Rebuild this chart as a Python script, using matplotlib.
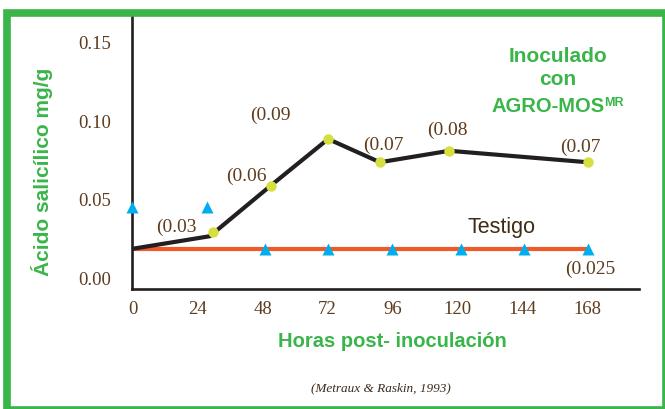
import matplotlib
matplotlib.use("Agg")
import matplotlib.pyplot as plt
from matplotlib.patches import Rectangle

# Inoculado con AGRO-MOS (black line with yellow markers)
hours_line = [0, 28.5, 51, 72.2, 91.3, 116.9, 168]
sa_line = [0.018, 0.026, 0.0582, 0.0879, 0.0731, 0.0804, 0.0731]
hours_pts = [29.7, 51, 72.2, 91.3, 116.9, 168]
sa_pts = [0.0287, 0.0582, 0.0879, 0.0731, 0.0804, 0.0731]

# Testigo (red line with blue triangles)
hours_ctrl = [0, 168]
sa_ctrl = [0.0178, 0.0178]
hours_tri = [0, 27.6, 48.9, 72.3, 95.6, 121.2, 144.6, 168.2]
sa_tri = [0.0446, 0.0446, 0.0178, 0.0178, 0.0178, 0.0178, 0.0178, 0.0178]

labels_pts = ["(0.03", "(0.06", "(0.09", "(0.07", "(0.08", "(0.07", "(0.025"]
xticks = [0, 24, 48, 72, 96, 120, 144, 168]
yticks = [0.00, 0.05, 0.10, 0.15]

green = "#39B54A"
brown = "#5E3C1E"
serif = ["Liberation Serif", "DejaVu Serif"]
sans = ["Liberation Sans", "DejaVu Sans"]

fig = plt.figure(figsize=(6.65, 4.10), dpi=100)
ax = fig.add_axes([0.1988, 0.2927, 0.9613 - 0.1988, 0.9707 - 0.2927])

ax.plot(hours_ctrl, sa_ctrl, color="#EF5A28", lw=3.0, solid_capstyle="butt", zorder=2)
ax.plot(hours_line, sa_line, color="#231F20", lw=3.0, zorder=3)
ax.plot(hours_pts, sa_pts, "o", color="#D5DF3D", ms=7.5, mec="none", zorder=4)
ax.plot(hours_tri, sa_tri, "^", color="#00AEEF", ms=8, mec="none", zorder=4, clip_on=False)

ax.set_xlim(-0.1, 187)
ax.set_ylim(-0.0076, 0.1694)
ax.set_xticks(xticks)
ax.set_xticklabels([str(v) for v in xticks])
ax.set_yticks(yticks)
ax.set_yticklabels(["%.2f" % v for v in yticks])
ax.tick_params(length=0, labelcolor=brown, labelsize=13.5)
ax.tick_params(axis="x", pad=8)
ax.tick_params(axis="y", pad=15)
for lab in ax.get_xticklabels() + ax.get_yticklabels():
    lab.set_family(serif)
for s in ["top", "right"]:
    ax.spines[s].set_visible(False)
for s in ["left", "bottom"]:
    ax.spines[s].set_color("#231F20")
    ax.spines[s].set_linewidth(1.9)

label_pos = [(16.1, 0.0325), (41.9, 0.065), (50.7, 0.1038), (92.4, 0.0847),
             (116.1, 0.0943), (165.1, 0.0834), (168.8, 0.0057)]
for txt, (x, y) in zip(labels_pts, label_pos):
    ax.text(x, y, txt, ha="center", va="center", color=brown, fontsize=14, family=serif)

ax.text(136, 0.0325, "Testigo", ha="center", va="center", color="#3F2A14",
        fontsize=15.5, family=sans)

fig.text(0.839, 0.861, "Inoculado", ha="center", va="center", color=green,
         fontsize=15, fontweight="bold", family=sans)
fig.text(0.838, 0.805, "con", ha="center", va="center", color=green,
         fontsize=15, fontweight="bold", family=sans)
t = fig.text(0.8236, 0.741, "AGRO-MOS", ha="center", va="center", color=green,
             fontsize=14.5, fontweight="bold", family=sans)
ax.annotate("MR", xy=(1.0, 1.0), xycoords=t, xytext=(0, 0), textcoords="offset points",
            ha="left", va="top", color=green, fontsize=9, fontweight="bold", family=sans)

fig.text(0.5895, 0.168, "Horas post- inoculación", ha="center", va="center",
         color=green, fontsize=14.5, fontweight="bold", family=sans)
fig.text(0.0632, 0.5805, "Ácido salicílico mg/g", ha="center", va="center",
         rotation=90, color=green, fontsize=15, fontweight="bold", family=sans)
fig.text(0.573, 0.0537, "(Metraux & Raskin, 1993)", ha="center", va="center",
         color="#3B2A1A", fontsize=9.5, style="italic", family=serif)

border = Rectangle((7.2 / 665, -1 / 410), (666 - 7.2) / 665, (411 - 13.7) / 410,
                   transform=fig.transFigure, fill=False, edgecolor=green,
                   lw=5.5, zorder=10)
fig.patches.append(border)

fig.savefig("out.png", dpi=100)
